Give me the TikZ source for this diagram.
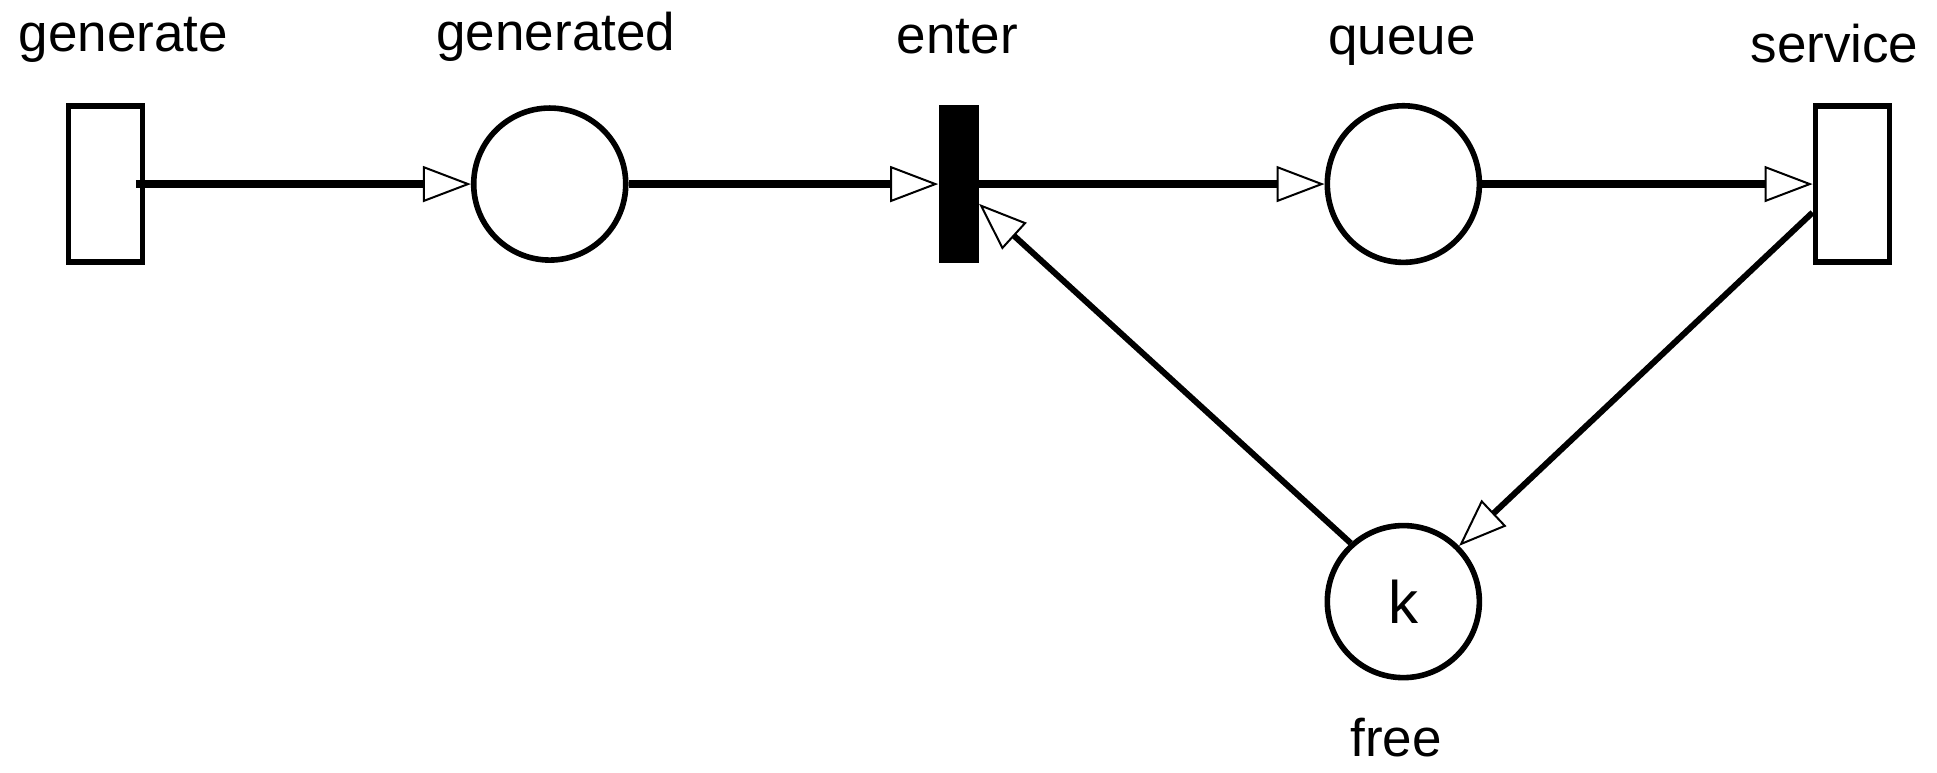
\documentclass[tikz,border=0pt]{standalone}
\usepackage{fontspec}
\setmainfont{Liberation Sans}
\usetikzlibrary{arrows.meta}
\begin{document}
\begin{tikzpicture}[x=0.6175pt,y=-0.6175pt,
  place/.style={circle,draw,line width=2.8pt,minimum size=76pt,inner sep=0pt},
  trans/.style={rectangle,draw,line width=2.8pt,minimum width=37pt,minimum height=78pt,inner sep=0pt},
  lbl/.style={font=\fontsize{26.5}{28}\selectfont},
  arc/.style={line width=4.2pt,-{Triangle[open,length=24pt,width=18pt,line width=1pt]}},
  arcd/.style={line width=3pt,-{Triangle[open,length=24pt,width=18pt,line width=1pt]}}]
\useasboundingbox (0,0) rectangle (1568,625);
\node[trans] (gen) at (85.5,149) {};
\node[place] (gend) at (445,149) {};
\node[rectangle,fill=black,minimum width=20pt,minimum height=79pt,inner sep=0pt] (ent) at (776,149) {};
\node[place,yscale=1.03] (q) at (1136,149) {};
\node[trans] (ser) at (1499.5,149) {};
\node[place,font=\fontsize{30}{32}\selectfont] (fr) at (1136,487) {k};
\node[lbl] (l1) at (100,32) {generate};
\node[lbl] (l2) at (450,30) {generated};
\node[lbl] (l3) at (775,30) {enter};
\node[lbl] (l4) at (1135,37) {queue};
\node[lbl] (l5) at (1485,35) {service};
\node[lbl] (l6) at (1130,597) {free};
\coordinate (gs) at (110,149);
\draw[arc] (gs) -- (gend.west);
\draw[arc] (gend.east) -- (ent.west);
\draw[arc] (ent.east) -- (q.west);
\draw[arc] (q.east) -- (ser.west);
\draw[arcd] (ser.west |- 0,172) -- (fr.45);
\draw[arcd] (fr.132) -- (ent.east |- 0,165);
\end{tikzpicture}
\end{document}
